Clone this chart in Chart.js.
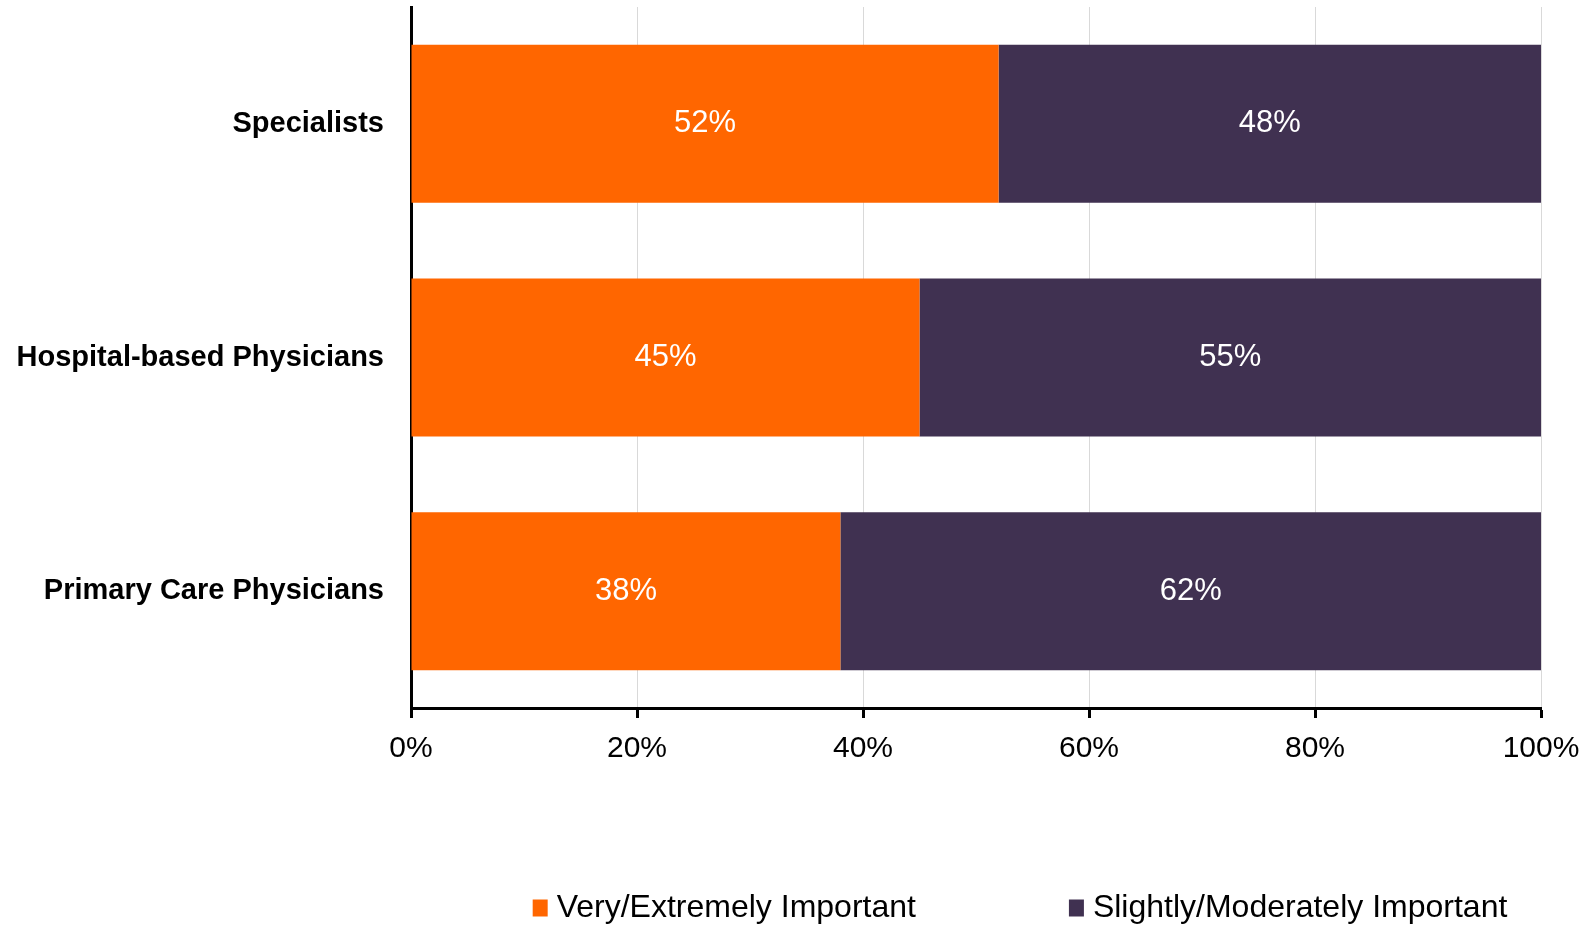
<!DOCTYPE html>
<html>
<head>
<meta charset="utf-8">
<title>Importance by physician type</title>
<script src="https://cdn.jsdelivr.net/npm/chart.js@4"></script>
<style>
  html, body { margin: 0; padding: 0; background: #ffffff; }
  #wrap { width: 1586px; height: 925px; position: relative; }
</style>
</head>
<body>
<div id="wrap"><canvas id="chart"></canvas></div>
<script>
// Survey shares by physician type (percent)
const categories = ['Specialists', 'Hospital-based Physicians', 'Primary Care Physicians'];
const veryExtremely = [52, 45, 38];
const slightlyModerately = [48, 55, 62];
const seriesNames = ['Very/Extremely Important', 'Slightly/Moderately Important'];

const ORANGE = '#FF6600';
const PURPLE = '#403151';
const FONT = "'Liberation Sans', Arial, sans-serif";

Chart.defaults.font.family = FONT;
Chart.defaults.color = '#000000';

// Writes each segment's value in the middle of its bar
const valueLabels = {
  id: 'valueLabels',
  afterDatasetsDraw(chart) {
    const ctx = chart.ctx;
    ctx.save();
    ctx.font = '31px ' + FONT;
    ctx.fillStyle = '#ffffff';
    ctx.textAlign = 'center';
    ctx.textBaseline = 'middle';
    chart.data.datasets.forEach((ds, di) => {
      const meta = chart.getDatasetMeta(di);
      meta.data.forEach((bar, i) => {
        const c = bar.getCenterPoint();
        ctx.fillText(ds.data[i] + '%', c.x, c.y);
      });
    });
    ctx.restore();
  }
};

// Moves the legend row right and extends its box upward so the row sits near the bottom edge
const legendPlacement = {
  id: 'legendPlacement',
  afterLayout(chart) {
    const lg = chart.legend;
    if (!lg) return;
    lg.left += 253; lg.right += 253;
    lg.top -= 56;
  }
};

new Chart(document.getElementById('chart'), {
  type: 'bar',
  data: {
    labels: categories,
    datasets: [
      { label: seriesNames[0], data: veryExtremely, backgroundColor: ORANGE,
        categoryPercentage: 1, barPercentage: 0.676 },
      { label: seriesNames[1], data: slightlyModerately, backgroundColor: PURPLE,
        categoryPercentage: 1, barPercentage: 0.676 }
    ]
  },
  options: {
    indexAxis: 'y',
    responsive: true,
    maintainAspectRatio: false,
    animation: false,
    layout: { padding: { top: 7, right: 45, bottom: 0, left: 0 } },
    scales: {
      x: {
        stacked: true,
        min: 0, max: 100,
        ticks: {
          stepSize: 20,
          padding: 13,
          maxRotation: 0,
          color: '#000000',
          font: { size: 30 },
          callback: v => v + '%'
        },
        grid: {
          color: '#d9d9d9', lineWidth: 1,
          tickColor: '#000000', tickWidth: 3, tickLength: 10
        },
        border: { display: true, color: '#000000', width: 3 },
        afterFit(scale) {
          scale.height = 80;
          scale.paddingLeft = 0;
          scale.paddingRight = 0;
        }
      },
      y: {
        stacked: true,
        ticks: {
          padding: 27,
          color: '#000000',
          font: { size: 29, weight: 'bold' }
        },
        grid: { display: false, drawTicks: false },
        border: { display: true, color: '#000000', width: 3 },
        afterFit(scale) {
          scale.width = 411;
          scale.paddingTop = 0;
          scale.paddingBottom = 0;
        }
      }
    },
    plugins: {
      legend: {
        position: 'bottom',
        maxHeight: 137,
        labels: {
          // small core rect with a thick same-colour outline gives a 15x17 swatch
          boxWidth: 1,
          boxHeight: 3,
          padding: 160,
          color: '#000000',
          font: { size: 32 },
          generateLabels(chart) {
            const items = Chart.defaults.plugins.legend.labels.generateLabels(chart);
            items.forEach(it => { it.lineWidth = 14; it.strokeStyle = it.fillStyle; });
            return items;
          }
        }
      },
      tooltip: { enabled: false }
    }
  },
  plugins: [valueLabels, legendPlacement]
});
</script>
</body>
</html>
